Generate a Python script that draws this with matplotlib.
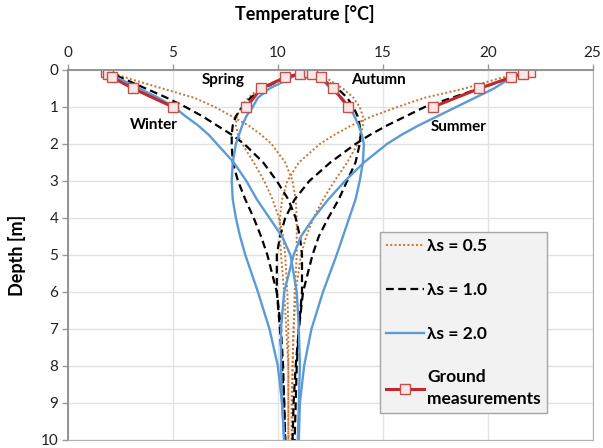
import matplotlib
matplotlib.use("Agg")
import matplotlib.pyplot as plt

# depth grid for the model curves [m]
depth = [0, 0.1, 0.25, 0.5, 0.75, 1.0, 1.25, 1.5, 1.75, 2.0, 2.5, 3.0,
         3.5, 4.0, 4.5, 5.0, 6.0, 7.0, 8.0, 9.0, 10.0]

# lambda_s = 0.5 (dotted)
winter_05 = [1.8, 2.2, 3.0, 4.5, 6.0, 7.0, 7.8, 8.6, 9.2, 9.7, 10.35, 10.7,
             10.85, 10.9, 10.9, 10.9, 10.8, 10.75, 10.7, 10.65, 10.65]
spring_05 = [11.5, 11.0, 10.1, 9.1, 8.6, 8.25, 8.05, 8.0, 8.1, 8.3, 8.85, 9.35,
             9.75, 10.05, 10.25, 10.35, 10.45, 10.5, 10.5, 10.5, 10.5]
autumn_05 = [11.5, 11.8, 12.4, 13.1, 13.6, 13.9, 14.05, 14.05, 13.95, 13.8, 13.3,
             12.7, 12.15, 11.7, 11.35, 11.1, 10.85, 10.75, 10.7, 10.7, 10.7]
summer_05 = [22.0, 21.4, 20.4, 18.9, 17.0, 15.7, 14.5, 13.5, 12.7, 12.0, 11.0,
             10.45, 10.2, 10.1, 10.1, 10.15, 10.3, 10.4, 10.5, 10.5, 10.5]

# lambda_s = 1.0 (dashed)
winter_10 = [1.8, 2.1, 2.7, 3.7, 4.7, 5.6, 6.4, 7.1, 7.8, 8.4, 9.3, 9.95,
             10.5, 10.85, 11.05, 11.15, 11.15, 11.0, 10.85, 10.75, 10.7]
spring_10 = [11.5, 11.0, 10.2, 9.3, 8.7, 8.3, 8.0, 7.85, 7.8, 7.8, 7.85, 8.1,
             8.45, 8.85, 9.2, 9.5, 9.95, 10.15, 10.25, 10.3, 10.35]
autumn_10 = [11.5, 11.7, 12.2, 12.85, 13.3, 13.6, 13.8, 13.9, 13.95, 13.9, 13.7,
             13.3, 12.9, 12.4, 11.95, 11.65, 11.2, 11.0, 10.9, 10.85, 10.8]
summer_10 = [22.0, 21.6, 20.9, 19.6, 18.3, 17.0, 16.1, 15.2, 14.4, 13.7, 12.5,
             11.5, 10.8, 10.35, 10.1, 9.95, 9.95, 10.1, 10.2, 10.3, 10.35]

# lambda_s = 2.0 (solid blue)
winter_20 = [1.8, 2.0, 2.5, 3.4, 4.3, 5.05, 5.6, 6.2, 6.7, 7.1, 7.9, 8.5,
             9.0, 9.6, 10.2, 10.6, 10.9, 11.0, 11.05, 11.0, 10.95]
spring_20 = [11.4, 11.0, 10.5, 9.6, 9.05, 8.8, 8.5, 8.3, 8.15, 8.0, 7.85, 7.8,
             7.85, 8.0, 8.2, 8.45, 9.05, 9.6, 10.0, 10.2, 10.3]
autumn_20 = [11.5, 11.7, 12.1, 12.5, 13.05, 13.4, 13.65, 13.85, 14.0, 14.1, 14.05,
             13.9, 13.7, 13.4, 13.1, 12.8, 12.15, 11.6, 11.25, 11.05, 11.0]
summer_20 = [22.0, 21.6, 21.0, 20.3, 19.4, 18.5, 17.6, 16.7, 15.9, 15.2, 14.1,
             13.2, 12.4, 11.7, 11.1, 10.75, 10.3, 10.15, 10.15, 10.2, 10.3]

# ground measurements
meas_depth = [0.05, 0.1, 0.2, 0.5, 1.0]
winter_meas = [1.8, 1.9, 2.1, 3.1, 5.0]
spring_meas = [11.4, 11.05, 10.35, 9.2, 8.5]
autumn_meas = [11.5, 11.65, 12.05, 12.65, 13.35]
summer_meas = [22.0, 21.7, 21.1, 19.6, 17.4]

plt.rcParams['font.family'] = ['Lato', 'DejaVu Sans']

fig = plt.figure(figsize=(6.03, 4.48), dpi=100)
ax = fig.add_axes([0.1128, 0.0179, 0.870, 0.8259])

dot_col = "#c8742f"
blue_col = "#5b9bd5"
red_col = "#c0282d"

for i, vals in enumerate([winter_05, spring_05, autumn_05, summer_05]):
    ax.plot(vals, depth, color=dot_col, lw=1.4, linestyle=(0, (1, 1.2)),
            label="λs = 0.5" if i == 0 else None)
for i, vals in enumerate([winter_10, spring_10, autumn_10, summer_10]):
    ax.plot(vals, depth, color="black", lw=1.6, linestyle=(0, (3.5, 2)),
            label="λs = 1.0" if i == 0 else None)
for i, vals in enumerate([winter_20, spring_20, autumn_20, summer_20]):
    ax.plot(vals, depth, color=blue_col, lw=1.7,
            label="λs = 2.0" if i == 0 else None)
for i, vals in enumerate([winter_meas, spring_meas, autumn_meas, summer_meas]):
    ax.plot(vals, meas_depth, color=red_col, lw=2.2, marker="s", markersize=6.5,
            markerfacecolor="#fbe6e6", markeredgecolor="#c0504d",
            markeredgewidth=1.0,
            label="Ground\nmeasurements" if i == 0 else None)

ax.set_xlim(0, 25)
ax.set_ylim(10, 0)
ax.set_xticks(range(0, 26, 5))
ax.set_yticks(range(0, 11))
ax.xaxis.tick_top()
ax.xaxis.set_label_position("top")
ax.tick_params(labelsize=11, colors="#222222", length=4, width=1,
               color="#999999", pad=3)
ax.grid(color="#e2e2e2", lw=1)
ax.set_axisbelow(True)
for s in ax.spines.values():
    s.set_color("#b0b0b0")
ax.spines["left"].set_color("#8c8c8c")
ax.spines["left"].set_linewidth(1.3)
ax.spines["top"].set_color("#8c8c8c")
ax.spines["top"].set_linewidth(1.3)

ax.set_xlabel("Temperature [°C]", fontsize=13, fontweight="bold")
ax.xaxis.set_label_coords(0.451, 1.135)
ax.set_ylabel("Depth [m]", fontsize=13, fontweight="bold")
ax.yaxis.set_label_coords(-0.08, 0.5)

ax.text(4.1, 1.49, "Winter", fontsize=11, fontweight="bold", ha="center", va="center")
ax.text(7.4, 0.27, "Spring", fontsize=11, fontweight="bold", ha="center", va="center")
ax.text(14.8, 0.27, "Autumn", fontsize=11, fontweight="bold", ha="center", va="center")
ax.text(18.6, 1.54, "Summer", fontsize=11, fontweight="bold", ha="center", va="center")

leg = ax.legend(loc="upper left", bbox_to_anchor=(0.594, 0.562),
                prop={"weight": "bold", "size": 12.5}, labelspacing=1.6,
                handlelength=2.2, handletextpad=0.2, borderpad=0.35,
                fancybox=False, framealpha=1, borderaxespad=0)
leg.get_frame().set_facecolor("#f2f2f2")
leg.get_frame().set_edgecolor("#a6a6a6")
leg.get_texts()[3].set_linespacing(1.45)

fig.savefig("out.png", dpi=100)
